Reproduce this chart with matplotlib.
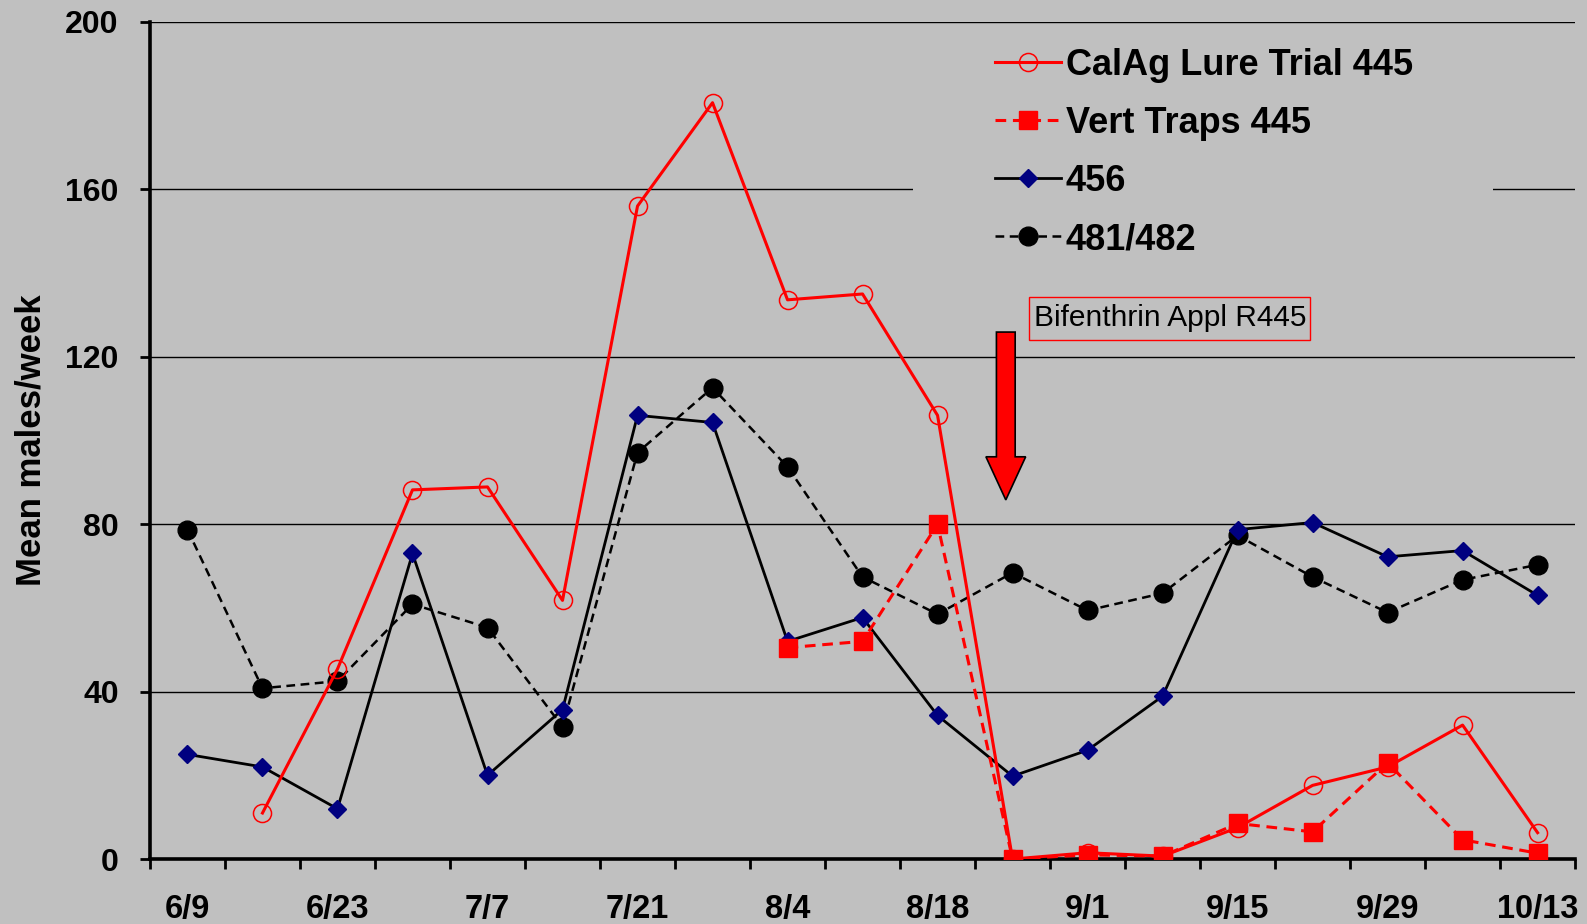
import numpy as np
import matplotlib
matplotlib.use("Agg")
import matplotlib.pyplot as plt
from matplotlib.patches import FancyArrow, Rectangle

dates = ["6/9", "6/16", "6/23", "6/30", "7/7", "7/14", "7/21", "7/28", "8/4", "8/11",
         "8/18", "8/25", "9/1", "9/8", "9/15", "9/22", "9/29", "10/6", "10/13"]
calag = [np.nan, 11, 45.4, 88.2, 88.9, 61.8, 156, 180.7, 133.6, 135, 106, 0, 1.5, 0.7,
         7.5, 17.6, 22, 32, 6.3]
vert = [np.nan] * 8 + [50.5, 52, 80, 0, 1, 0.7, 8.5, 6.5, 23, 4.6, 1.4]
s456 = [25, 22, 12, 73, 20, 35.7, 106, 104.3, 52, 57.7, 34.3, 19.8, 26, 38.9, 78.7, 80.4,
        72.2, 73.7, 63]
s481 = [78.7, 40.8, 42.5, 60.9, 55.3, 31.6, 97.1, 112.6, 93.7, 67.4, 58.5, 68.4, 59.4,
        63.5, 77.3, 67.4, 58.9, 66.7, 70.3]
series_names = ["CalAg Lure Trial 445", "Vert Traps 445", "456", "481/482"]
yticks = [0, 40, 80, 120, 160, 200]
annot_text = "Bifenthrin Appl R445"

BG = "#C0C0C0"
plt.rcParams['font.family'] = ['Liberation Sans', 'DejaVu Sans']

fig = plt.figure(figsize=(15.87, 9.24), dpi=100, facecolor=BG)
ax = fig.add_axes([0.0945, 0.0703, 0.898, 0.906], facecolor=BG)

x = np.arange(len(dates))
dash = (0, (3.5, 2.2))
ax.plot(x, calag, color="#FF0000", lw=2.2, marker="o", ms=13, mfc="none", mec="#FF0000",
        mew=1.1, label=series_names[0], zorder=5)
ax.plot(x, vert, color="#FF0000", lw=2.2, ls=dash, marker="s", ms=13.5, mfc="#FF0000",
        mec="#FF0000", label=series_names[1], zorder=6)
ax.plot(x, s456, color="black", lw=2.0, marker="D", ms=9.5, mfc="#000080", mec="#000080",
        label=series_names[2], zorder=4)
ax.plot(x, s481, color="black", lw=1.8, ls=dash, marker="o", ms=13.5, mfc="black", mec="black",
        label=series_names[3], zorder=3)

ax.set_xlim(-0.5, len(dates) - 0.5)
ax.set_ylim(0, 200)
ax.set_yticks(yticks)
ax.set_yticklabels([str(v) for v in yticks], fontsize=23, fontweight="bold")
ax.yaxis.grid(True, color="black", lw=1.0)
ax.set_axisbelow(True)

ax.set_xticks(np.arange(-0.5, len(dates), 1.0))
ax.set_xticklabels([])
ax.set_xticks(x[::2], minor=True)
ax.set_xticklabels(dates[::2], minor=True, fontsize=23.5, fontweight="bold")
ax.tick_params(axis="x", which="major", length=7.5, width=2, direction="out")
ax.tick_params(axis="x", which="minor", length=0, pad=25)
ax.tick_params(axis="y", length=7.5, width=2, direction="out", pad=15)

for s in ["top", "right"]:
    ax.spines[s].set_visible(False)
for s in ["left", "bottom"]:
    ax.spines[s].set_linewidth(2.6)

ax.set_ylabel("Mean males/week", fontsize=25, fontweight="bold", labelpad=13)

# legend background patch hiding the gridline behind the legend
ax.add_patch(Rectangle((9.67, 145), 17.41 - 9.67, 52, facecolor=BG, edgecolor="none",
                       zorder=1))
leg = ax.legend(loc="upper left", bbox_to_anchor=(0.585, 0.982), frameon=False,
                prop={"size": 26, "weight": "bold"}, handlelength=1.83, handletextpad=0.14,
                labelspacing=0.64, borderpad=0.3, borderaxespad=0)
leg.set_zorder(10)

arr = FancyArrow(10.91, 125.9, 0, -40.1, width=0.25, head_width=0.53, head_length=10.3,
                 length_includes_head=True, facecolor="#FF0000", edgecolor="black", lw=1.2,
                 zorder=7)
ax.add_patch(arr)
ax.add_patch(Rectangle((11.22, 124.0), 14.97 - 11.22, 134.35 - 124.0, facecolor=BG,
                       edgecolor="#FF0000", lw=1, zorder=8))
ax.text(11.29, 129.2, annot_text, fontsize=21.5, va="center", ha="left", zorder=9)

fig.savefig("out.png", dpi=100, facecolor=BG)
